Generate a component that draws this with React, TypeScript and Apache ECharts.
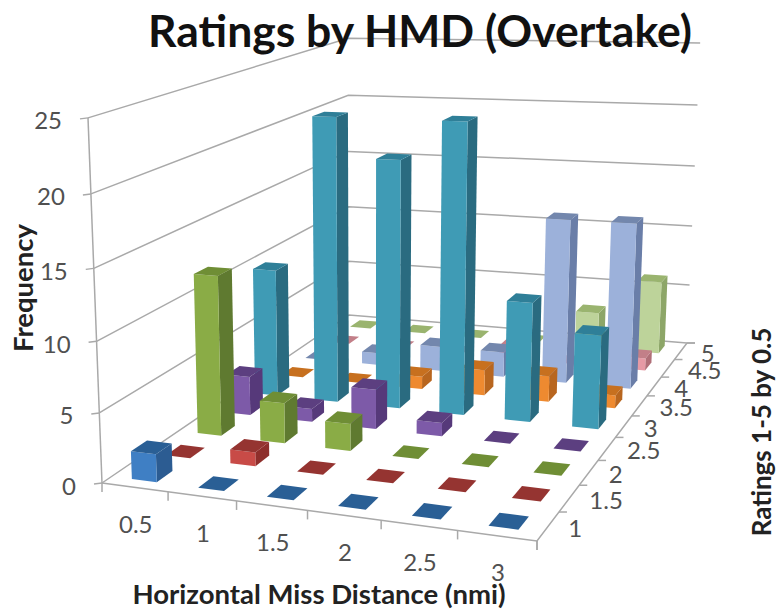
import React, { useEffect, useRef } from "react";
import * as echarts from "echarts";

const missDistances = ["0.5", "1", "1.5", "2", "2.5", "3"];
const ratings = ["1", "1.5", "2", "2.5", "3", "3.5", "4", "4.5", "5"];
const frequencyTicks = [0, 5, 10, 15, 20, 25];

const rating1 = [2, 0, 0, 0, 0, 0];
const rating15 = [0, 1, 0, 0, 0, 0];
const rating2 = [12, 3, 2, 0, 0, 0];
const rating25 = [3, 1, 3, 1, 0, 0];
const rating3 = [10, 22, 19, 22, 9, 7];
const rating35 = [0, 0, 1, 2, 2, 1];
const rating4 = [0, 1, 2, 2, 13, 13];
const rating45 = [0, 0, 0, 1, 0, 1];
const rating5 = [0, 0, 0, 0, 3, 6];
const rows = [rating1, rating15, rating2, rating25, rating3, rating35, rating4, rating45, rating5];

// [front, side, top]
const palette = [
  ["#3F7FC4", "#2C5C92", "#2A5F95"],
  ["#C84B47", "#8E2E2B", "#953431"],
  ["#8AAC46", "#5F7A30", "#6F8E35"],
  ["#7D5AA8", "#56397A", "#5C3F80"],
  ["#3F9BB5", "#2A6B80", "#2F7F98"],
  ["#EE8A30", "#B8661F", "#C7701F"],
  ["#9CB1DA", "#6A7EA8", "#7387AD"],
  ["#E69AA5", "#B06F78", "#C27F88"],
  ["#BDD39A", "#8DA668", "#9AB46F"],
];

const FREQ_MAX = 25;
const A = [102, 483], B = [537, 541], C = [687, 343], D = [349, 315];
const V = [372, 7524];
const K = -0.0493;
const den = (B[0] - C[0]) * (D[1] - C[1]) - (D[0] - C[0]) * (B[1] - C[1]);
const sx = A[0] - B[0] + C[0] - D[0];
const sy = A[1] - B[1] + C[1] - D[1];
const G = (sx * (D[1] - C[1]) - (D[0] - C[0]) * sy) / den;
const H = ((B[0] - C[0]) * sy - sx * (B[1] - C[1])) / den;

function project(u: number, v: number, t: number): number[] {
  const X = (B[0] - A[0] + G * B[0]) * u + (D[0] - A[0] + H * D[0]) * v + A[0];
  const Y = (B[1] - A[1] + G * B[1]) * u + (D[1] - A[1] + H * D[1]) * v + A[1];
  const W = G * u + H * v + 1;
  return [(X + t * K * V[0]) / (W + t * K), (Y + t * K * V[1]) / (W + t * K)];
}

const BAR_U = 0.38;
const BAR_V = 0.46;
const GRID_COLOR = "#A9A9A9";
const LABEL_COLOR = "#505050";
const FONT = "Lato";
const TICK_SIZE = 24;

const barData: number[][] = [];
for (let r = ratings.length - 1; r >= 0; r--) {
  for (let c = 0; c < missDistances.length; c++) {
    barData.push([c, r, rows[r][c]]);
  }
}

const toUV = (params: any, api: any, c: number, r: number) => {
  const p = api.coord([c, r]);
  const s = api.size([1, 1]);
  const g = params.coordSys;
  return {
    u: (p[0] - g.x) / g.width,
    v: 1 - (p[1] - g.y) / g.height,
    du: s[0] / g.width,
    dv: s[1] / g.height,
  };
};

const renderBar = (params: any, api: any) => {
  const c = api.value(0);
  const r = api.value(1);
  const val = api.value(2);
  const { u, v, du, dv } = toUV(params, api, c, r);
  const u0 = u - (du * BAR_U) / 2, u1 = u + (du * BAR_U) / 2;
  const v0 = v - (dv * BAR_V) / 2, v1 = v + (dv * BAR_V) / 2;
  const t = val / FREQ_MAX;
  const [front, side, top] = palette[r];
  const children: any[] = [];
  if (val > 0) {
    children.push({
      type: "polygon",
      shape: { points: [project(u1, v0, 0), project(u1, v1, 0), project(u1, v1, t), project(u1, v0, t)] },
      style: { fill: side },
    });
    children.push({
      type: "polygon",
      shape: { points: [project(u0, v0, 0), project(u1, v0, 0), project(u1, v0, t), project(u0, v0, t)] },
      style: { fill: front },
    });
  }
  children.push({
    type: "polygon",
    shape: { points: [project(u0, v0, t), project(u1, v0, t), project(u1, v1, t), project(u0, v1, t)] },
    style: { fill: top },
  });
  return { type: "group", children };
};

const renderWall = (params: any, api: any) => {
  const f = frequencyTicks[params.dataIndex];
  const t = f / FREQ_MAX;
  const a = project(0, 0, t), d = project(0, 1, t), c = project(1, 1, t);
  return {
    type: "group",
    children: [
      { type: "polyline", shape: { points: [a, d, c] }, style: { stroke: GRID_COLOR, lineWidth: 1.5, fill: "none" } },
      { type: "line", shape: { x1: a[0] - 8, y1: a[1] + 1, x2: a[0], y2: a[1] }, style: { stroke: GRID_COLOR, lineWidth: 1.5 } },
      {
        type: "text",
        x: a[0] - 26,
        y: a[1] + 2,
        style: { text: String(f), fill: LABEL_COLOR, fontSize: TICK_SIZE, fontFamily: FONT, align: "right", verticalAlign: "middle" },
      },
    ],
  };
};

const renderXTick = (params: any, api: any) => {
  const c = api.value(0);
  const { u, du } = toUV(params, api, c, 0);
  const mid = project(u, 0, 0);
  const end = project(u + du / 2, 0, 0);
  return {
    type: "group",
    children: [
      { type: "line", shape: { x1: end[0], y1: end[1], x2: end[0], y2: end[1] + 9 }, style: { stroke: GRID_COLOR, lineWidth: 1.5 } },
      {
        type: "text",
        x: mid[0] + 1,
        y: mid[1] + 36,
        style: { text: missDistances[c], fill: LABEL_COLOR, fontSize: TICK_SIZE, fontFamily: FONT, align: "center", verticalAlign: "middle" },
      },
    ],
  };
};

const renderYTick = (params: any, api: any) => {
  const r = api.value(1);
  const { v, dv } = toUV(params, api, 0, r);
  const mid = project(1, v, 0);
  const end = project(1, v + dv / 2, 0);
  return {
    type: "group",
    children: [
      { type: "line", shape: { x1: end[0], y1: end[1], x2: end[0] + 8, y2: end[1] }, style: { stroke: GRID_COLOR, lineWidth: 1.5 } },
      {
        type: "text",
        x: mid[0] + 20,
        y: mid[1] + 1,
        style: { text: ratings[r], fill: LABEL_COLOR, fontSize: TICK_SIZE, fontFamily: FONT, align: "left", verticalAlign: "middle" },
      },
    ],
  };
};

const renderFrame = () => {
  const top = project(0, 0, 1);
  return {
    type: "group",
    children: [
      { type: "polyline", shape: { points: [top, A] }, style: { stroke: GRID_COLOR, lineWidth: 1.5, fill: "none" } },
      { type: "polyline", shape: { points: [A, B, C] }, style: { stroke: GRID_COLOR, lineWidth: 1.5, fill: "none" } },
      { type: "line", shape: { x1: A[0], y1: A[1], x2: A[0], y2: A[1] + 9 }, style: { stroke: GRID_COLOR, lineWidth: 1.5 } },
      { type: "line", shape: { x1: B[0], y1: B[1], x2: B[0], y2: B[1] + 9 }, style: { stroke: GRID_COLOR, lineWidth: 1.5 } },
      { type: "line", shape: { x1: C[0], y1: C[1], x2: C[0] + 8, y2: C[1] }, style: { stroke: GRID_COLOR, lineWidth: 1.5 } },
    ],
  };
};

export default function App() {
  const ref = useRef<HTMLDivElement>(null);
  useEffect(() => {
    const chart = echarts.init(ref.current!, null, { renderer: "svg" });
    const base = { type: "custom", coordinateSystem: "cartesian2d", silent: true };
    const axisTitle = { fill: "#222222", fontWeight: "bold", fontFamily: FONT, align: "center", verticalAlign: "middle" };
    chart.setOption({
      animation: false,
      backgroundColor: "#FFFFFF",
      grid: { left: 0, right: 0, top: 0, bottom: 0 },
      xAxis: { type: "category", data: missDistances, show: false },
      yAxis: { type: "category", data: ratings, show: false },
      title: {
        text: "Ratings by HMD (Overtake)",
        left: 415,
        top: 2,
        textAlign: "center",
        textStyle: { fontFamily: FONT, fontSize: 44.5, fontWeight: "bold", color: "#111111" },
      },
      graphic: [
        { type: "text", x: 22, y: 288, rotation: Math.PI / 2, style: { text: "Frequency", fontSize: 27.5, ...axisTitle } },
        { type: "text", x: 761, y: 432, rotation: Math.PI / 2, style: { text: "Ratings 1-5 by 0.5", fontSize: 26, ...axisTitle } },
        { type: "text", x: 319, y: 593, style: { text: "Horizontal Miss Distance (nmi)", fontSize: 27.5, ...axisTitle } },
      ],
      series: [
        { ...base, id: "walls", data: frequencyTicks.map(() => [0, 0]), renderItem: renderWall },
        { ...base, id: "frame", data: [[0, 0]], renderItem: renderFrame },
        { ...base, id: "xticks", data: missDistances.map((_, i) => [i, 0]), renderItem: renderXTick },
        { ...base, id: "yticks", data: ratings.map((_, i) => [0, i]), renderItem: renderYTick },
        { ...base, id: "bars", data: barData, encode: { x: 0, y: 1 }, renderItem: renderBar },
      ],
    });
    return () => chart.dispose();
  }, []);
  return <div ref={ref} style={{ position: "fixed", left: 0, top: 0, width: 778, height: 609 }} />;
}
